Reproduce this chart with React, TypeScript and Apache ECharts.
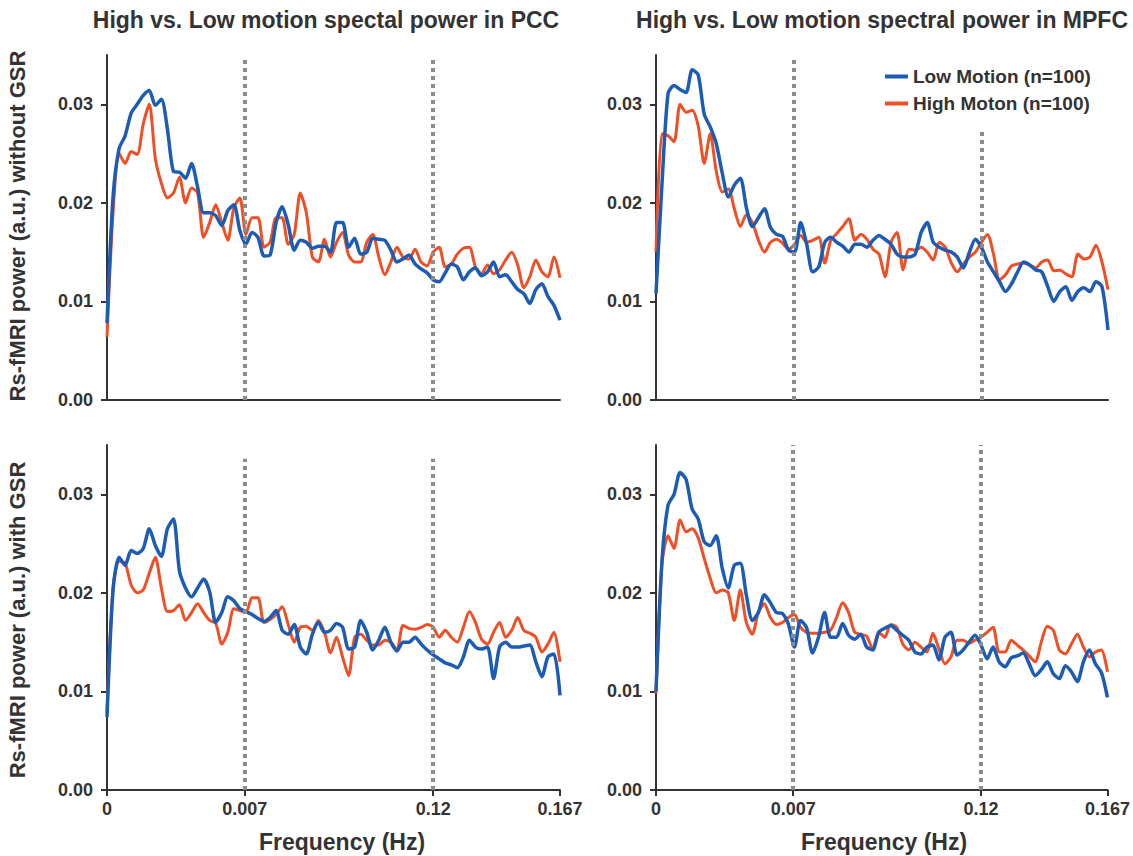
import React, { useEffect, useRef } from "react";
import * as echarts from "echarts";

const TITLES = ["High vs. Low motion spectal power in PCC", "High vs. Low motion spectral power in MPFC"];
const ROW_LABELS = ["Rs-fMRI power (a.u.) without GSR", "Rs-fMRI power (a.u.) with GSR"];
const X_NAME = "Frequency (Hz)";
const SERIES_NAMES = ["Low Motion (n=100)", "High Moton (n=100)"];

// x positions are frequency-bin indices (0..75); ticks placed at the bins of the labelled frequencies
const X_TICKS = [0, 22.8, 54, 75];
const X_TICK_LABELS = ["0", "0.007", "0.12", "0.167"];
const Y_TICKS = [0, 0.01, 0.02, 0.03];
const CUTOFFS = [22.8, 54];

// PCC without GSR
const pccNoGsrLow = [0.0078,0.0206,0.0255,0.0268,0.0291,0.0300,0.0309,0.0314,0.0299,0.0305,0.0275,0.0232,0.0231,0.0225,0.0240,0.0216,0.0190,0.0190,0.0187,0.0177,0.0192,0.0198,0.0172,0.0158,0.0170,0.0165,0.0146,0.0147,0.0180,0.0196,0.0178,0.0152,0.0162,0.0160,0.0154,0.0156,0.0156,0.0150,0.0180,0.0180,0.0155,0.0164,0.0148,0.0150,0.0164,0.0163,0.0162,0.0152,0.0140,0.0143,0.0147,0.0138,0.0133,0.0129,0.0122,0.0120,0.0129,0.0138,0.0135,0.0122,0.0130,0.0134,0.0126,0.0130,0.0140,0.0125,0.0127,0.0120,0.0112,0.0108,0.0098,0.0112,0.0118,0.0105,0.0096,0.0081];
const pccNoGsrHigh = [0.0064,0.0190,0.0250,0.0240,0.0252,0.0249,0.0280,0.0300,0.0245,0.0220,0.0205,0.0210,0.0226,0.0200,0.0215,0.0210,0.0165,0.0180,0.0198,0.0180,0.0162,0.0195,0.0205,0.0168,0.0185,0.0185,0.0155,0.0160,0.0185,0.0185,0.0158,0.0168,0.0210,0.0190,0.0145,0.0140,0.0163,0.0145,0.0160,0.0170,0.0147,0.0140,0.0140,0.0160,0.0168,0.0145,0.0127,0.0140,0.0155,0.0145,0.0143,0.0153,0.0140,0.0136,0.0150,0.0155,0.0135,0.0138,0.0148,0.0154,0.0155,0.0135,0.0128,0.0137,0.0128,0.0132,0.0142,0.0150,0.0137,0.0114,0.0125,0.0142,0.0130,0.0125,0.0145,0.0124];

// MPFC without GSR
const mpfcNoGsrLow = [0.0108,0.0220,0.0311,0.0319,0.0315,0.0312,0.0335,0.0330,0.0290,0.0277,0.0260,0.0230,0.0206,0.0218,0.0225,0.0195,0.0176,0.0185,0.0194,0.0175,0.0168,0.0166,0.0152,0.0150,0.0180,0.0158,0.0130,0.0135,0.0160,0.0165,0.0160,0.0156,0.0150,0.0158,0.0158,0.0155,0.0162,0.0167,0.0163,0.0158,0.0148,0.0145,0.0145,0.0148,0.0170,0.0180,0.0160,0.0155,0.0152,0.0150,0.0145,0.0134,0.0150,0.0163,0.0155,0.0140,0.0130,0.0120,0.0110,0.0118,0.0130,0.0140,0.0137,0.0132,0.0130,0.0115,0.0100,0.0110,0.0115,0.0101,0.0110,0.0114,0.0110,0.0120,0.0115,0.0071];
const mpfcNoGsrHigh = [0.0150,0.0270,0.0268,0.0262,0.0300,0.0292,0.0294,0.0278,0.0240,0.0270,0.0232,0.0211,0.0214,0.0194,0.0176,0.0188,0.0180,0.0162,0.0150,0.0160,0.0163,0.0159,0.0153,0.0158,0.0167,0.0160,0.0162,0.0165,0.0139,0.0162,0.0169,0.0176,0.0184,0.0162,0.0168,0.0163,0.0153,0.0148,0.0125,0.0160,0.0170,0.0132,0.0153,0.0152,0.0155,0.0150,0.0142,0.0160,0.0155,0.0139,0.0130,0.0138,0.0145,0.0150,0.0160,0.0168,0.0148,0.0122,0.0127,0.0136,0.0138,0.0139,0.0137,0.0134,0.0140,0.0142,0.0131,0.0132,0.0128,0.0125,0.0148,0.0143,0.0145,0.0157,0.0140,0.0112];

// PCC with GSR
const pccGsrLow = [0.0074,0.0203,0.0236,0.0228,0.0243,0.0240,0.0245,0.0265,0.0248,0.0237,0.0265,0.0275,0.0222,0.0205,0.0196,0.0205,0.0214,0.0201,0.0170,0.0180,0.0196,0.0192,0.0184,0.0181,0.0178,0.0174,0.0171,0.0175,0.0182,0.0162,0.0158,0.0168,0.0145,0.0138,0.0158,0.0170,0.0160,0.0162,0.0169,0.0165,0.0143,0.0145,0.0172,0.0160,0.0142,0.0152,0.0165,0.0150,0.0141,0.0150,0.0150,0.0155,0.0148,0.0142,0.0137,0.0133,0.0129,0.0127,0.0124,0.0135,0.0152,0.0145,0.0143,0.0145,0.0113,0.0145,0.0150,0.0145,0.0145,0.0146,0.0147,0.0130,0.0115,0.0135,0.0138,0.0096];
const pccGsrHigh = [0.0078,0.0205,0.0232,0.0230,0.0208,0.0200,0.0203,0.0220,0.0236,0.0205,0.0181,0.0182,0.0188,0.0172,0.0180,0.0189,0.0180,0.0172,0.0169,0.0148,0.0160,0.0184,0.0182,0.0180,0.0195,0.0195,0.0170,0.0173,0.0178,0.0186,0.0168,0.0150,0.0165,0.0166,0.0162,0.0172,0.0160,0.0139,0.0155,0.0135,0.0116,0.0155,0.0158,0.0152,0.0147,0.0147,0.0152,0.0150,0.0142,0.0167,0.0164,0.0163,0.0165,0.0168,0.0165,0.0155,0.0162,0.0155,0.0150,0.0165,0.0181,0.0170,0.0153,0.0148,0.0160,0.0170,0.0155,0.0162,0.0175,0.0162,0.0159,0.0155,0.0140,0.0148,0.0160,0.0130];

// MPFC with GSR
const mpfcGsrLow = [0.0100,0.0233,0.0289,0.0300,0.0322,0.0315,0.0285,0.0275,0.0252,0.0248,0.0258,0.0225,0.0205,0.0228,0.0230,0.0198,0.0172,0.0180,0.0198,0.0190,0.0180,0.0179,0.0168,0.0145,0.0172,0.0165,0.0139,0.0155,0.0180,0.0155,0.0155,0.0169,0.0157,0.0153,0.0158,0.0145,0.0142,0.0160,0.0164,0.0167,0.0162,0.0157,0.0152,0.0140,0.0138,0.0145,0.0147,0.0132,0.0155,0.0160,0.0137,0.0142,0.0150,0.0157,0.0147,0.0133,0.0145,0.0130,0.0125,0.0134,0.0136,0.0139,0.0128,0.0116,0.0122,0.0130,0.0118,0.0113,0.0126,0.0120,0.0110,0.0130,0.0142,0.0128,0.0119,0.0094];
const mpfcGsrHigh = [0.0098,0.0230,0.0258,0.0245,0.0274,0.0262,0.0265,0.0256,0.0235,0.0215,0.0200,0.0203,0.0200,0.0172,0.0203,0.0170,0.0158,0.0180,0.0189,0.0175,0.0168,0.0170,0.0175,0.0178,0.0165,0.0160,0.0159,0.0159,0.0160,0.0162,0.0175,0.0190,0.0180,0.0160,0.0158,0.0156,0.0143,0.0160,0.0155,0.0168,0.0165,0.0148,0.0142,0.0150,0.0145,0.0140,0.0159,0.0143,0.0128,0.0135,0.0152,0.0152,0.0149,0.0152,0.0155,0.0160,0.0165,0.0140,0.0140,0.0152,0.0147,0.0142,0.0136,0.0130,0.0150,0.0166,0.0162,0.0142,0.0138,0.0148,0.0158,0.0145,0.0135,0.0140,0.0142,0.0120];

const PANELS = [
  { low: pccNoGsrLow, high: pccNoGsrHigh, cutoffTop: [0.0347, 0.0347] },
  { low: mpfcNoGsrLow, high: mpfcNoGsrHigh, cutoffTop: [0.0347, 0.0276] },
  { low: pccGsrLow, high: pccGsrHigh, cutoffTop: [0.0336, 0.0336] },
  { low: mpfcGsrLow, high: mpfcGsrHigh, cutoffTop: [0.035, 0.035] },
];

const FONT = '"Liberation Sans", Arial, sans-serif';
const TEXT = "#333";
const BLUE = "#1d5cb4";
const RED = "#f04e24";

export default function App() {
  const ref = useRef<HTMLDivElement>(null);
  useEffect(() => {
    if (!ref.current) return;
    const chart = echarts.init(ref.current, undefined, { renderer: "svg" });
    const grids = [
      { left: 107, top: 55, width: 453, height: 345 },
      { left: 656, top: 55, width: 452, height: 345 },
      { left: 107, top: 445, width: 453, height: 345 },
      { left: 656, top: 445, width: 452, height: 345 },
    ];
    const xAxes = grids.map((_, g) => {
      const bottom = g >= 2;
      return {
        type: "value",
        gridIndex: g,
        min: 0,
        max: 75,
        axisLine: { show: true, lineStyle: { color: TEXT, width: 2 } },
        axisTick: { show: bottom, customValues: X_TICKS, length: 6, lineStyle: { color: TEXT, width: 2 } },
        axisLabel: {
          show: bottom,
          customValues: X_TICKS,
          formatter: (v: number) => X_TICK_LABELS[X_TICKS.indexOf(v)] ?? "",
          fontFamily: FONT,
          fontWeight: "bold",
          fontSize: 18,
          color: TEXT,
          margin: 10,
        },
        splitLine: { show: false },
      };
    });
    const yAxes = grids.map((_, g) => ({
      type: "value",
      gridIndex: g,
      min: 0,
      max: 0.035,
      axisLine: { show: true, lineStyle: { color: TEXT, width: 2 } },
      axisTick: { show: true, customValues: Y_TICKS, length: 6, lineStyle: { color: TEXT, width: 2 } },
      axisLabel: {
        customValues: Y_TICKS,
        formatter: (v: number) => v.toFixed(2),
        fontFamily: FONT,
        fontWeight: "bold",
        fontSize: 18,
        color: TEXT,
        margin: 14,
      },
      splitLine: { show: false },
    }));
    const series: any[] = [];
    PANELS.forEach((p, g) => {
      series.push({
        type: "line",
        name: SERIES_NAMES[0],
        xAxisIndex: g,
        yAxisIndex: g,
        data: p.low.map((v, i) => [i, v]),
        showSymbol: false,
        smooth: 0.25,
        lineStyle: { color: BLUE, width: 3.5 },
        itemStyle: { color: BLUE },
        z: 3,
      });
      series.push({
        type: "line",
        name: SERIES_NAMES[1],
        xAxisIndex: g,
        yAxisIndex: g,
        data: p.high.map((v, i) => [i, v]),
        showSymbol: false,
        smooth: 0.25,
        lineStyle: { color: RED, width: 3 },
        itemStyle: { color: RED },
        z: 2,
        markLine: {
          silent: true,
          symbol: ["none", "none"],
          label: { show: false },
          lineStyle: { color: "#8c8c8c", width: 4, type: [4, 4] },
          z: 10,
          data: CUTOFFS.map((c, k) => [
            { coord: [c, 0] },
            { coord: [c, p.cutoffTop[k]] },
          ]),
        },
      });
    });
    const graphics: any[] = [
      { type: "text", x: 326, y: 20, style: { text: TITLES[0], font: `bold 23px ${FONT}`, fill: TEXT, align: "center", verticalAlign: "middle" } },
      { type: "text", x: 882, y: 20, style: { text: TITLES[1], font: `bold 23px ${FONT}`, fill: TEXT, align: "center", verticalAlign: "middle" } },
      { type: "text", x: 17, y: 226, rotation: Math.PI / 2, style: { text: ROW_LABELS[0], font: `bold 22px ${FONT}`, fill: TEXT, align: "center", verticalAlign: "middle" } },
      { type: "text", x: 17, y: 620, rotation: Math.PI / 2, style: { text: ROW_LABELS[1], font: `bold 22px ${FONT}`, fill: TEXT, align: "center", verticalAlign: "middle" } },
      { type: "text", x: 342, y: 842, style: { text: X_NAME, font: `bold 23px ${FONT}`, fill: TEXT, align: "center", verticalAlign: "middle" } },
      { type: "text", x: 884, y: 842, style: { text: X_NAME, font: `bold 23px ${FONT}`, fill: TEXT, align: "center", verticalAlign: "middle" } },
    ];
    chart.setOption({
      animation: false,
      backgroundColor: "#fff",
      grid: grids,
      xAxis: xAxes,
      yAxis: yAxes,
      series,
      legend: {
        data: SERIES_NAMES,
        orient: "vertical",
        left: 880,
        top: 62,
        icon: "rect",
        itemWidth: 23,
        itemHeight: 4,
        itemGap: 8,
        textStyle: { fontFamily: FONT, fontWeight: "bold", fontSize: 19, color: TEXT },
      },
      graphic: graphics,
    });
    return () => chart.dispose();
  }, []);
  return <div ref={ref} style={{ position: "absolute", left: 0, top: 0, width: 1133, height: 856 }} />;
}
